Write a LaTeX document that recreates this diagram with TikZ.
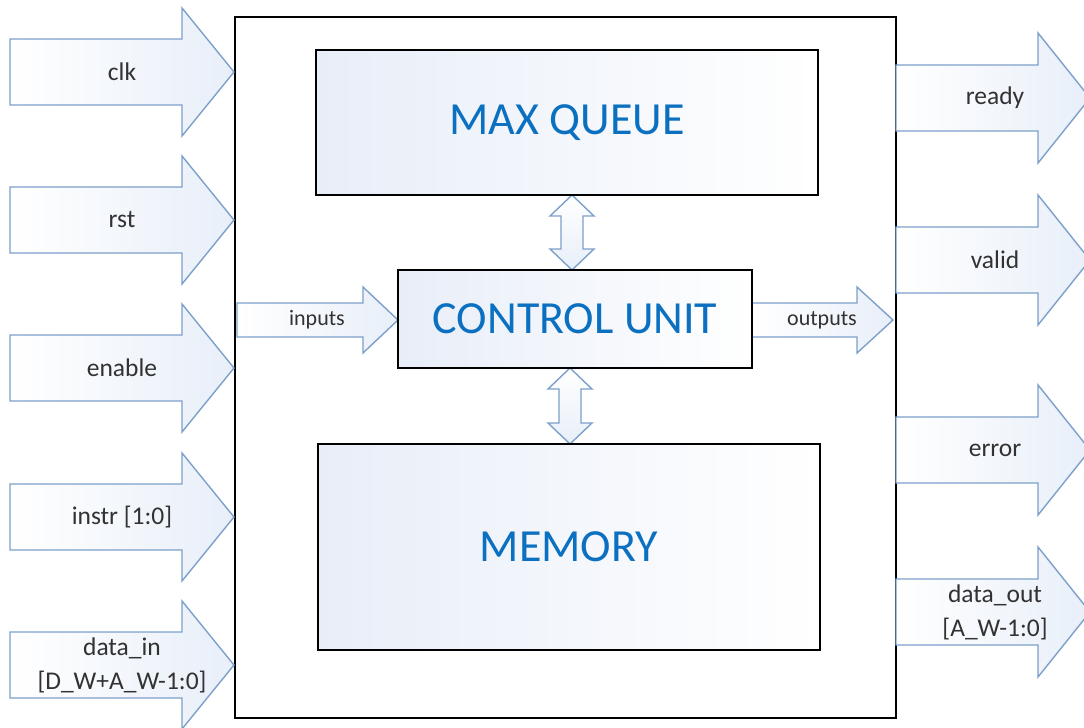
\documentclass[tikz,border=0pt]{standalone}
\usepackage{fontspec}
\setmainfont{Carlito}
\definecolor{arrline}{RGB}{125,160,202}
\definecolor{arrfill}{RGB}{232,239,249}
\definecolor{boxfill}{RGB}{232,238,248}
\definecolor{titleblue}{RGB}{12,112,192}
\definecolor{labgrey}{RGB}{50,50,50}
\tikzset{
  sig/.style={draw=arrline, line width=1.4pt, left color=white, right color=arrfill, line join=miter},
  vsig/.style={draw=arrline, line width=1.4pt, top color=white, bottom color=arrfill, line join=miter},
  blk/.style={draw=black, line width=2.8pt, rectangle, left color=boxfill, right color=white,
    text=titleblue, font=\fontsize{46}{54}\selectfont, inner sep=0pt},
  lab/.style={text=labgrey, font=\fontsize{25.5}{34}\selectfont, align=center, inner sep=0pt},
  smalllab/.style={text=labgrey, font=\fontsize{22}{26}\selectfont, inner sep=0pt}
}
% left input signal arrow: name, centre y, label
\newcommand\inarrow[3]{%
  \path[sig] (10,#2-33) -- (182,#2-33) -- (182,#2-64) -- (234,#2) -- (182,#2+64) -- (182,#2+33) -- (10,#2+33) -- cycle;
  \node[lab] (#1) at (122,#2) {#3};}
% right output signal arrow: name, centre y, label
\newcommand\outarrow[3]{%
  \path[sig] (896,#2-33) -- (1038,#2-33) -- (1038,#2-65) -- (1090,#2) -- (1038,#2+65) -- (1038,#2+33) -- (896,#2+33) -- cycle;
  \node[lab] (#1) at (995,#2) {#3};}
% vertical double arrow: x, top y, bottom y
\newcommand\dblarrow[3]{%
  \path[vsig] (#1,#2) -- (#1+22,#2+21) -- (#1+11,#2+21) -- (#1+11,#3-21) -- (#1+22,#3-21) -- (#1,#3)
    -- (#1-22,#3-21) -- (#1-11,#3-21) -- (#1-11,#2+21) -- (#1-22,#2+21) -- cycle;}
\begin{document}
\begin{tikzpicture}[x=1pt,y=-1pt]
\useasboundingbox (0,0) rectangle (1084,728);
\fill[white] (0,0) rectangle (1084,728);
% outer module
\node[draw=black, line width=2.8pt, fill=white, minimum width=661pt, minimum height=701pt, inner sep=0pt] (top) at (565.5,367.5) {};
% internal arrows
\path[sig] (237,303) -- (363,303) -- (363,287) -- (398,320) -- (363,353) -- (363,337) -- (237,337) -- cycle;
\node[smalllab] (inl) at (317,320) {inputs};
\path[sig] (752,303) -- (857,303) -- (857,287) -- (893,320) -- (857,353) -- (857,337) -- (752,337) -- cycle;
\node[smalllab] (outl) at (822,320) {outputs};
\dblarrow{572}{195}{270}
\dblarrow{570}{368}{444}
% blocks
\node[blk, minimum width=502pt, minimum height=145pt] (mq) at (567,122.5) {MAX QUEUE};
\node[blk, minimum width=354pt, minimum height=98pt] (cu) at (575,319) {CONTROL UNIT};
\node[blk, minimum width=502pt, minimum height=206pt] (mem) at (569,547) {MEMORY};
% input signals
\inarrow{clk}{72}{clk}
\inarrow{rst}{220}{rst}
\inarrow{en}{368}{enable}
\inarrow{instr}{517}{instr [1:0]}
\inarrow{din}{665}{data\_in\\\relax[D\_W+A\_W-1:0]}
% output signals
\outarrow{ready}{98}{ready}
\outarrow{valid}{260}{valid}
\outarrow{err}{450}{error}
\outarrow{dout}{612}{data\_out\\\relax[A\_W-1:0]}
\end{tikzpicture}
\end{document}
